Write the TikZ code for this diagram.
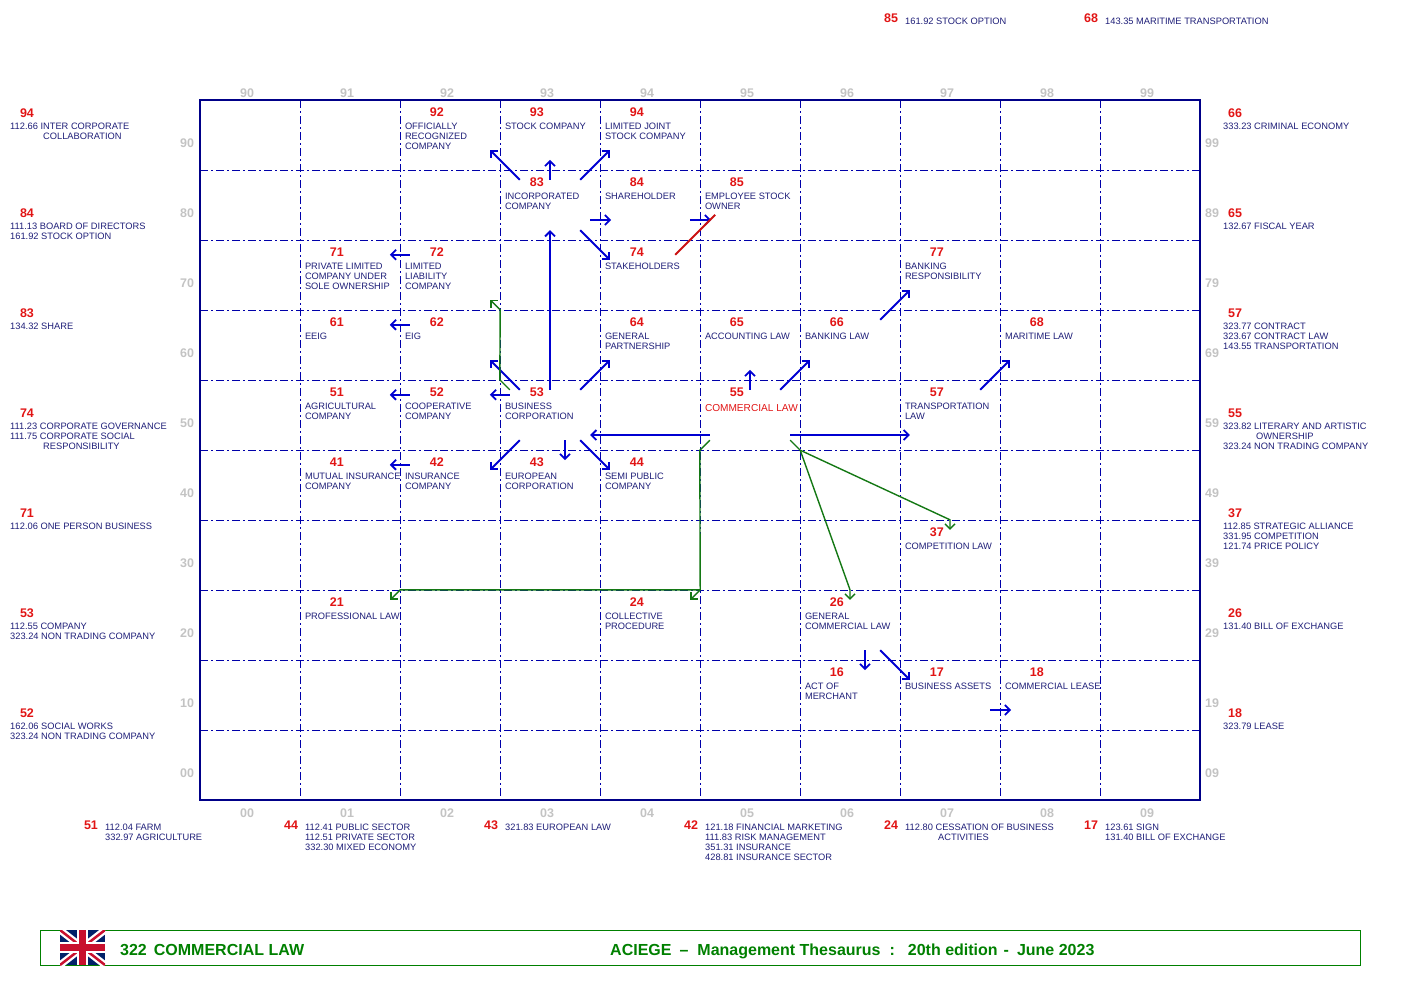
\documentclass[tikz,border=0pt]{standalone}
\usepackage{fontspec}
\setmainfont{Liberation Sans}
\usepackage{tikz}
\usetikzlibrary{arrows.meta}

\definecolor{txtblue}{RGB}{30,30,120}
\definecolor{numred}{RGB}{225,20,20}
\definecolor{arrblue}{RGB}{0,0,210}
\definecolor{gridblue}{RGB}{0,0,170}
\definecolor{axisgray}{RGB}{195,195,195}
\definecolor{arrgreen}{RGB}{20,120,20}
\definecolor{footgreen}{RGB}{0,128,0}
\definecolor{flagblue}{RGB}{1,33,105}
\definecolor{flagred}{RGB}{200,16,46}

\tikzset{
  cellbox/.style={minimum width=100pt, minimum height=70pt, inner sep=0pt},
  cellnum/.style={anchor=base, inner sep=0pt, text=numred, font=\fontsize{12.5}{14}\selectfont\bfseries},
  celltxt/.style={anchor=north west, inner sep=0pt, align=left, text=txtblue, font=\fontsize{9.3}{10}\selectfont},
  axislbl/.style={anchor=base, inner sep=0pt, text=axisgray, font=\fontsize{12.5}{14}\selectfont\bfseries},
  gridln/.style={gridblue, line width=0.9pt, dash pattern=on 8pt off 3pt on 2pt off 3pt},
  frameln/.style={gridblue!80!black, line width=1.2pt},
  bluearr/.style={->, arrblue, line width=1.8pt},
  greenarr/.style={->, arrgreen, line width=1.4pt, line join=round},
}

\begin{document}
\begin{tikzpicture}[x=1pt, y=-1pt, >={Straight Barb[length=5pt,width=10pt]}]
    \useasboundingbox (0,0) rectangle (1410,980);

    % grid
    \foreach \i in {1,...,9} {
        \draw[gridln] (200+100*\i,100) -- (200+100*\i,800);
        \draw[gridln] (200,100+70*\i) -- (1200,100+70*\i);
    }
    \draw[frameln] (200,100) rectangle (1200,800);

    % axis labels
    \foreach \i in {0,...,9} {
        \pgfmathtruncatemacro\lv{9-\i}
        \node[axislbl] (at\i) at (247+100*\i,97) {9\i};
        \node[axislbl] (ab\i) at (247+100*\i,817) {0\i};
        \node[axislbl] (al\i) at (187,147+70*\i) {\lv0};
        \node[axislbl] (ar\i) at (1212,147+70*\i) {\lv9};
    }

    % cells
    \foreach \n/\txt in {
        92/{OFFICIALLY\\RECOGNIZED\\COMPANY}, 93/{STOCK COMPANY}, 94/{LIMITED JOINT\\STOCK COMPANY},
        83/{INCORPORATED\\COMPANY}, 84/{SHAREHOLDER}, 85/{EMPLOYEE STOCK\\OWNER},
        71/{PRIVATE LIMITED\\COMPANY UNDER\\SOLE OWNERSHIP}, 72/{LIMITED\\LIABILITY\\COMPANY},
        74/{STAKEHOLDERS}, 77/{BANKING\\RESPONSIBILITY},
        61/{EEIG}, 62/{EIG}, 64/{GENERAL\\PARTNERSHIP}, 65/{ACCOUNTING LAW},
        66/{BANKING LAW}, 68/{MARITIME LAW},
        51/{AGRICULTURAL\\COMPANY}, 52/{COOPERATIVE\\COMPANY}, 53/{BUSINESS\\CORPORATION},
        57/{TRANSPORTATION\\LAW},
        41/{MUTUAL INSURANCE\\COMPANY}, 42/{INSURANCE\\COMPANY}, 43/{EUROPEAN\\CORPORATION},
        44/{SEMI PUBLIC\\COMPANY},
        37/{COMPETITION LAW},
        21/{PROFESSIONAL LAW}, 24/{COLLECTIVE\\PROCEDURE}, 26/{GENERAL\\COMMERCIAL LAW},
        16/{ACT OF\\MERCHANT}, 17/{BUSINESS ASSETS}, 18/{COMMERCIAL LEASE}} {
        \pgfmathtruncatemacro\tn{\n/10}
        \pgfmathtruncatemacro\cn{\n-10*\tn}
        \node[cellbox] (k\n) at ({250+100*\cn},{765-70*\tn}) {};
        \node[cellnum] (n\n) at ([shift={(37,17)}]k\n.north west) {\n};
        \node[celltxt] (t\n) at ([shift={(5,23)}]k\n.north west) {\txt};
    }
    \node[cellbox] (k55) at (750,415) {};
    \node[cellnum] (n55) at ([shift={(37,17)}]k55.north west) {55};
    \node[celltxt, text=numred, font=\fontsize{10.1}{11}\selectfont] (t55) at ([shift={(5,24)}]k55.north west) {COMMERCIAL LAW};

    % references in the margins
    \foreach \k/\n/\txt in {
        0/94/{112.66 INTER CORPORATE\\\hspace*{33pt}COLLABORATION},
        1/84/{111.13 BOARD OF DIRECTORS\\161.92 STOCK OPTION},
        2/83/{134.32 SHARE},
        3/74/{111.23 CORPORATE GOVERNANCE\\111.75 CORPORATE SOCIAL\\\hspace*{33pt}RESPONSIBILITY},
        4/71/{112.06 ONE PERSON BUSINESS},
        5/53/{112.55 COMPANY\\323.24 NON TRADING COMPANY},
        6/52/{162.06 SOCIAL WORKS\\323.24 NON TRADING COMPANY}} {
        \node[cellnum] (lm\n) at (27,117+100*\k) {\n};
        \node[celltxt] (lt\n) at (10,122.5+100*\k) {\txt};
    }
    \foreach \k/\n/\txt in {
        0/66/{333.23 CRIMINAL ECONOMY},
        1/65/{132.67 FISCAL YEAR},
        2/57/{323.77 CONTRACT\\323.67 CONTRACT LAW\\143.55 TRANSPORTATION},
        3/55/{323.82 LITERARY AND ARTISTIC\\\hspace*{33pt}OWNERSHIP\\323.24 NON TRADING COMPANY},
        4/37/{112.85 STRATEGIC ALLIANCE\\331.95 COMPETITION\\121.74 PRICE POLICY},
        5/26/{131.40 BILL OF EXCHANGE},
        6/18/{323.79 LEASE}} {
        \node[cellnum] (rm\n) at (1235,117+100*\k) {\n};
        \node[celltxt] (rt\n) at (1223,122.5+100*\k) {\txt};
    }
    \foreach \k/\n/\txt in {
        0/51/{112.04 FARM\\332.97 AGRICULTURE},
        1/44/{112.41 PUBLIC SECTOR\\112.51 PRIVATE SECTOR\\332.30 MIXED ECONOMY},
        2/43/{321.83 EUROPEAN LAW},
        3/42/{121.18 FINANCIAL MARKETING\\111.83 RISK MANAGEMENT\\351.31 INSURANCE\\428.81 INSURANCE SECTOR},
        4/24/{112.80 CESSATION OF BUSINESS\\\hspace*{33pt}ACTIVITIES},
        5/17/{123.61 SIGN\\131.40 BILL OF EXCHANGE}} {
        \node[cellnum] (bm\n) at (91+200*\k,829) {\n};
        \node[celltxt] (bt\n) at (105+200*\k,823.5) {\txt};
    }
    \node[cellnum] (tm85) at (891,22) {85};
    \node[celltxt] (tt85) at (905,17.5) {161.92 STOCK OPTION};
    \node[cellnum] (tm68) at (1091,22) {68};
    \node[celltxt] (tt68) at (1105,17.5) {143.35 MARITIME TRANSPORTATION};

    % blue arrows
    \draw[bluearr] ([shift={(20,10)}]k83.north west) -- ++(-30,-30);
    \draw[bluearr] ([shift={(0,10)}]k83.north) -- ++(0,-20);
    \draw[bluearr] ([shift={(-20,10)}]k83.north east) -- ++(30,-30);
    \draw[bluearr] ([shift={(-10,15)}]k83.east) -- ++(21,0);
    \draw[bluearr] ([shift={(-20,-10)}]k83.south east) -- ++(30,30);
    \draw[bluearr] ([shift={(-10,15)}]k84.east) -- ++(21,0);
    \draw[bluearr] ([shift={(0,10)}]k53.north) -- ([shift={(0,-10)}]k83.south);
    \foreach \a in {72,62,52,42}
        \draw[bluearr] ([shift={(10,15)}]k\a.north west) -- ++(-20,0);
    \draw[bluearr] ([shift={(20,10)}]k53.north west) -- ++(-30,-30);
    \draw[bluearr] ([shift={(10,15)}]k53.north west) -- ++(-20,0);
    \draw[bluearr] ([shift={(-20,10)}]k53.north east) -- ++(30,-30);
    \draw[bluearr] ([shift={(20,-10)}]k53.south west) -- ++(-30,30);
    \draw[bluearr] ([shift={(15,-10)}]k53.south) -- ++(0,20);
    \draw[bluearr] ([shift={(-20,-10)}]k53.south east) -- ++(30,30);
    \draw[bluearr] ([shift={(0,10)}]k55.north) -- ++(0,-20);
    \draw[bluearr] ([shift={(-20,10)}]k55.north east) -- ++(30,-30);
    \draw[bluearr] ([shift={(10,20)}]k55.west) -- ([shift={(-10,20)}]k53.east);
    \draw[bluearr] ([shift={(-10,20)}]k55.east) -- ([shift={(10,20)}]k57.west);
    \draw[bluearr] ([shift={(-20,10)}]k66.north east) -- ++(30,-30);
    \draw[bluearr] ([shift={(-20,10)}]k57.north east) -- ++(30,-30);
    \draw[bluearr] ([shift={(15,-10)}]k26.south) -- ++(0,20);
    \draw[bluearr] ([shift={(-20,-10)}]k26.south east) -- ++(30,30);
    \draw[bluearr] ([shift={(-10,15)}]k17.east) -- ++(21,0);

    % red line
    \draw[numred!90!black, line width=1.8pt] ([shift={(-25,15)}]k74.north east) -- ++(40,-40);

    % green arrows
    \draw[greenarr] ([shift={(10,10)}]k53.north west) -- (k53.north west) -- (k62.north east) -- ++(-10,-10);
    \draw[greenarr] ([shift={(10,-10)}]k55.south west) -- (k55.south west) -- (k24.north east) -- ++(-10,10);
    \draw[greenarr] (k24.north east) -- (k21.north east) -- ++(-10,10);
    \draw[greenarr] ([shift={(-10,-10)}]k55.south east) -- (k55.south east) -- (k37.north) -- ++(0,10);
    \draw[greenarr] (k55.south east) -- (k26.north) -- ++(0,10);

    % footer
    \draw[footgreen, line width=1pt] (40,930) rectangle (1360,965);
    \begin{scope}
        \clip (60,930) rectangle (105,965);
        \fill[flagblue] (60,930) rectangle (105,965);
        \draw[white, line width=7pt] (60,930) -- (105,965) (60,965) -- (105,930);
        \draw[flagred, line width=2.5pt] (60,930) -- (105,965) (60,965) -- (105,930);
        \draw[white, line width=11pt] (82.5,930) -- (82.5,965) (60,947.5) -- (105,947.5);
        \draw[flagred, line width=7pt] (82.5,930) -- (82.5,965) (60,947.5) -- (105,947.5);
    \end{scope}
    \node[anchor=base west, inner sep=0pt, text=footgreen, font=\fontsize{16}{18}\selectfont\bfseries] (title) at (120,955) {322\hspace{7pt}COMMERCIAL LAW};
    \node[anchor=base west, inner sep=0pt, text=footgreen, font=\fontsize{16}{18}\selectfont\bfseries] (edition) at (610,955)
        {ACIEGE\hspace{8pt}–\hspace{9pt}Management Thesaurus\hspace{9pt}:\hspace{13pt}20th edition\hspace{6pt}-\hspace{8pt}June 2023};

\end{tikzpicture}
\end{document}
